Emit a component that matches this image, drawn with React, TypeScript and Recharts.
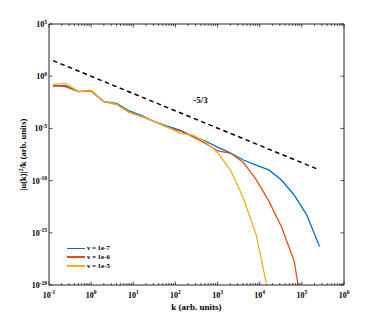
import React from 'react';
import { LineChart, Line, XAxis, YAxis, Legend, ReferenceDot, Label } from 'recharts';

// wavenumbers (arb. units)
const kValues = [0.125, 0.25, 0.5, 1, 2, 4, 8, 16, 32, 64, 128, 256, 512, 1024, 2048, 4096, 8192, 16384, 32768, 65536, 131072, 262144];

// |u(k)|^2 / k for each viscosity
const nu1e7 = [1.15e-1, 1.26e-1, 3.39e-2, 4.07e-2, 3.63e-3, 2.51e-3, 4.68e-4, 1.66e-4, 4.37e-5, 1.7e-5, 6.92e-6, 1.86e-6, 6.17e-7, 1.55e-7, 4.37e-8, 9.33e-9, 3.09e-9, 1.05e-9, 1.15e-10, 4.17e-12, 5.01e-14, 4.9e-17];
const nu1e6 = [1.35e-1, 9.33e-2, 3.39e-2, 3.8e-2, 3.63e-3, 2.04e-3, 3.47e-4, 1.32e-4, 4.37e-5, 1.35e-5, 5.62e-6, 1.58e-6, 3.72e-7, 6.92e-8, 4.17e-8, 5.37e-9, 1.29e-10, 1.15e-12, 3.8e-15, 2.0e-18, 1.0e-25];
const nu1e5 = [1.66e-1, 2.09e-1, 3.39e-2, 4.47e-2, 3.63e-3, 2.04e-3, 3.47e-4, 1.32e-4, 4.37e-5, 1.35e-5, 3.39e-6, 2.34e-6, 5.01e-7, 4.37e-8, 8.91e-10, 2.0e-12, 6.92e-16, 1.1e-21];

// -5/3 reference slope end points
const slopeK = [0.125, 262144];
const slopeV = [3.09e1, 1.05e-9];
const slopeLabel = '-5/3';

const seriesNames = ['\u03bd = 1e-7', '\u03bd = 1e-6', '\u03bd = 1e-5'];
const seriesColors = ['#0072BD', '#D95319', '#EDB120'];

const xMajorTicks = [0.1, 1, 10, 100, 1e3, 1e4, 1e5, 1e6];
const xTickExponents = ['-1', '0', '1', '2', '3', '4', '5', '6'];
const minorMultipliers = [2, 3, 4, 5, 6, 7, 8, 9];
const yMajorTicks = [1e-20, 1e-15, 1e-10, 1e-5, 1, 1e5];
const yTickExponents = ['-20', '-15', '-10', '-5', '0', '5'];

const xTitle = 'k (arb. units)';

const toPoints = (ks: number[], vs: number[]) => vs.map((v, i) => ({ k: ks[i], v }));
const series = [nu1e7, nu1e6, nu1e5].map((vals, i) => ({
  name: seriesNames[i],
  color: seriesColors[i],
  data: toPoints(kValues, vals),
}));
const slopeData = toPoints(slopeK, slopeV);

const xAllTicks = [
  ...xMajorTicks,
  ...xMajorTicks.slice(0, -1).flatMap((m) => minorMultipliers.map((f) => m * f)),
].sort((a, b) => a - b);

const font = '"Liberation Serif", "Times New Roman", serif';
const axisColor = '#262626';

const majorIndex = (v: number, majors: number[]) =>
  majors.findIndex((m) => Math.abs(m - v) / m < 1e-9);

function BottomTick(props: any) {
  const { x, y, payload } = props;
  const idx = majorIndex(payload.value, xMajorTicks);
  const major = idx >= 0;
  return (
    <g>
      <line x1={x} x2={x} y1={y} y2={y - (major ? 3.5 : 2)} stroke={axisColor} strokeWidth={0.8} />
      {major && (
        <text x={x} y={y + 12.5} textAnchor="middle" fontFamily={font} fontWeight="bold" fontSize={8} fill="#000">
          10<tspan dy={-3.5} fontSize={5.5}>{xTickExponents[idx]}</tspan>
        </text>
      )}
    </g>
  );
}

function TopTick(props: any) {
  const { x, y, payload } = props;
  const major = majorIndex(payload.value, xMajorTicks) >= 0;
  return <line x1={x} x2={x} y1={y} y2={y + (major ? 3.5 : 2)} stroke={axisColor} strokeWidth={0.8} />;
}

function LeftTick(props: any) {
  const { x, y, payload } = props;
  const idx = majorIndex(payload.value, yMajorTicks);
  return (
    <g>
      <line x1={x} x2={x + 3.5} y1={y} y2={y} stroke={axisColor} strokeWidth={0.8} />
      <text x={x - 2} y={y + 3} textAnchor="end" fontFamily={font} fontWeight="bold" fontSize={8} fill="#000">
        10<tspan dy={-3.5} fontSize={5.5}>{yTickExponents[idx]}</tspan>
      </text>
    </g>
  );
}

function RightTick(props: any) {
  const { x, y } = props;
  return <line x1={x} x2={x - 3.5} y1={y} y2={y} stroke={axisColor} strokeWidth={0.8} />;
}

const renderLegend = (props: any) => {
  const items = (props.payload || [])
    .filter((p: any) => p.type !== 'none' && seriesNames.includes(p.value))
    .sort((a: any, b: any) => seriesNames.indexOf(a.value) - seriesNames.indexOf(b.value));
  return (
    <div style={{ fontFamily: font, fontWeight: 'bold', fontSize: 7, color: '#000' }}>
      {items.map((p: any) => (
        <div key={p.value} style={{ display: 'flex', alignItems: 'center', height: 8.8 }}>
          <span style={{ display: 'inline-block', width: 18, height: 1.6, background: p.color, marginRight: 2 }} />
          <span>{p.value}</span>
        </div>
      ))}
    </div>
  );
};

export default function App() {
  return (
    <div style={{ position: 'absolute', left: 0, top: 0, background: '#fff' }}>
      <LineChart width={380} height={321} margin={{ top: 0, right: 0, bottom: 0, left: 0 }}>
        <XAxis
          dataKey="k"
          type="number"
          scale="log"
          domain={[0.1, 1e6]}
          allowDataOverflow
          ticks={xAllTicks}
          interval={0}
          tick={<BottomTick />}
          tickLine={false}
          tickSize={0}
          tickMargin={0}
          height={36}
          axisLine={{ stroke: axisColor, strokeWidth: 1 }}
        >
          <Label
            content={(p: any) => {
              const vb = p.viewBox;
              return (
                <text x={vb.x + vb.width / 2} y={vb.y + 24.5} textAnchor="middle" fontFamily={font} fontWeight="bold" fontSize={9} fill="#000">
                  {xTitle}
                </text>
              );
            }}
          />
        </XAxis>
        <XAxis
          xAxisId="top"
          orientation="top"
          dataKey="k"
          type="number"
          scale="log"
          domain={[0.1, 1e6]}
          allowDataOverflow
          ticks={xAllTicks}
          interval={0}
          tick={<TopTick />}
          tickLine={false}
          tickSize={0}
          tickMargin={0}
          height={24}
          axisLine={{ stroke: axisColor, strokeWidth: 1 }}
        />
        <YAxis
          type="number"
          scale="log"
          domain={[1e-20, 1e5]}
          allowDataOverflow
          ticks={yMajorTicks}
          interval={0}
          tick={<LeftTick />}
          tickLine={false}
          tickSize={0}
          tickMargin={0}
          width={49}
          axisLine={{ stroke: axisColor, strokeWidth: 1 }}
        >
          <Label
            content={(p: any) => {
              const vb = p.viewBox;
              const cx = vb.x + 26;
              const cy = vb.y + vb.height / 2;
              return (
                <text x={cx} y={cy} transform={`rotate(-90, ${cx}, ${cy})`} textAnchor="middle" fontFamily={font} fontWeight="bold" fontSize={8.5} fill="#000">
                  |u(k)|<tspan dy={-3} fontSize={6}>2</tspan>
                  <tspan dy={3}>/k  (arb. units)</tspan>
                </text>
              );
            }}
          />
        </YAxis>
        <YAxis
          yAxisId="right"
          orientation="right"
          type="number"
          scale="log"
          domain={[1e-20, 1e5]}
          allowDataOverflow
          ticks={yMajorTicks}
          interval={0}
          tick={<RightTick />}
          tickLine={false}
          tickSize={0}
          tickMargin={0}
          width={36}
          axisLine={{ stroke: axisColor, strokeWidth: 1 }}
        />
        <Line
          data={slopeData}
          dataKey="v"
          name="slope"
          stroke="#000"
          strokeWidth={1.5}
          strokeDasharray="4.5 3.5"
          dot={false}
          legendType="none"
          isAnimationActive={false}
        />
        {series.map((s) => (
          <Line
            key={s.name}
            data={s.data}
            dataKey="v"
            name={s.name}
            stroke={s.color}
            strokeWidth={1.3}
            dot={false}
            type="linear"
            isAnimationActive={false}
          />
        ))}
        <ReferenceDot
          x={394}
          y={5.2e-3}
          r={0}
          fill="none"
          stroke="none"
          label={{ value: slopeLabel, position: 'center', fill: '#000', fontSize: 9, fontWeight: 'bold', fontFamily: font }}
        />
        <Legend
          layout="vertical"
          align="center"
          verticalAlign="middle"
          content={renderLegend}
          wrapperStyle={{ left: 67, top: 244, width: 'auto', height: 'auto' }}
        />
      </LineChart>
    </div>
  );
}
